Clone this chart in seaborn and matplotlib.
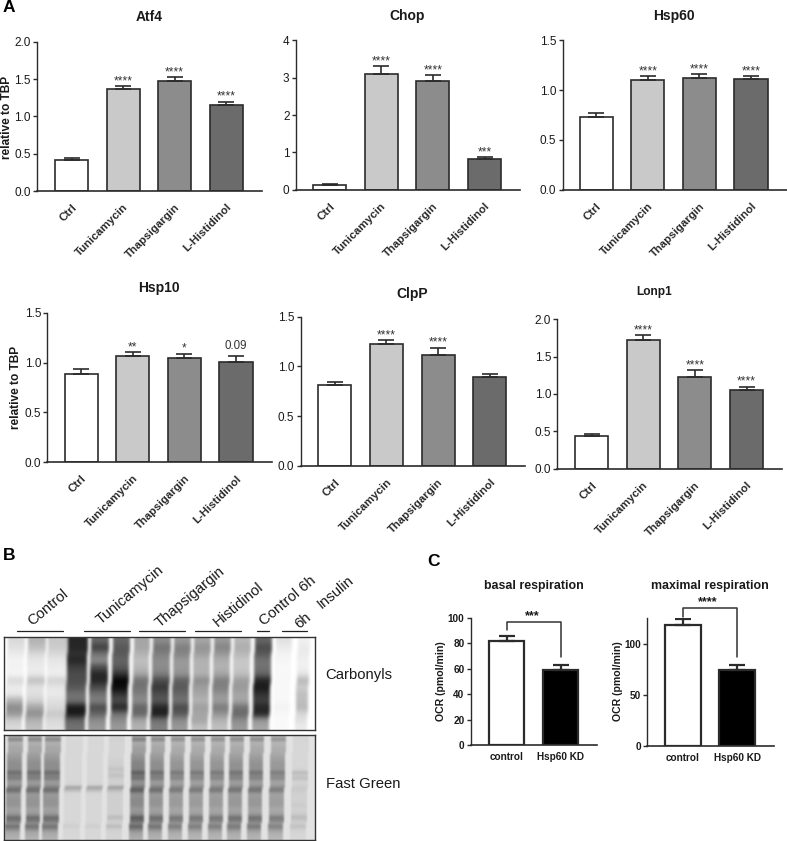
import numpy as np
import matplotlib
matplotlib.use('Agg')
import matplotlib.pyplot as plt
import seaborn as sns

# panel A data
treatments = ['Ctrl', 'Tunicamycin', 'Thapsigargin', 'L-Histidinol']
grays = ['#FFFFFF', '#C9C9C9', '#8C8C8C', '#6B6B6B']

atf4_vals = [0.42, 1.37, 1.48, 1.16]
atf4_err = [0.02, 0.04, 0.05, 0.04]
atf4_sig = ['', '****', '****', '****']
chop_vals = [0.12, 3.11, 2.90, 0.83]
chop_err = [0.02, 0.19, 0.17, 0.05]
chop_sig = ['', '****', '****', '***']
hsp60_vals = [0.73, 1.10, 1.12, 1.11]
hsp60_err = [0.04, 0.045, 0.045, 0.03]
hsp60_sig = ['', '****', '****', '****']
hsp10_vals = [0.89, 1.07, 1.05, 1.01]
hsp10_err = [0.05, 0.035, 0.04, 0.06]
hsp10_sig = ['', '**', '*', '0.09']
clpp_vals = [0.81, 1.23, 1.12, 0.89]
clpp_err = [0.03, 0.035, 0.07, 0.03]
clpp_sig = ['', '****', '****', '']
lonp1_vals = [0.44, 1.72, 1.23, 1.05]
lonp1_err = [0.03, 0.07, 0.09, 0.05]
lonp1_sig = ['', '****', '****', '****']

# panel C data
groups = ['control', 'Hsp60 KD']
basal_vals = [82, 59]
basal_err = [4, 4]
maximal_vals = [118, 74]
maximal_err = [6, 5.5]

# panel B, darkness of each lane (percent), top to bottom
carbonyl_lanes = [
    [15, 12, 8, 5, 5, 4, 15, 8, 8, 30, 45, 40, 20, 15],
    [30, 25, 15, 10, 8, 8, 25, 12, 12, 18, 35, 45, 30, 25],
    [22, 20, 15, 10, 8, 6, 18, 10, 8, 12, 15, 22, 15, 12],
    [85, 85, 80, 85, 75, 70, 70, 65, 55, 55, 90, 90, 60, 55],
    [60, 75, 55, 45, 70, 85, 85, 70, 55, 50, 70, 60, 45, 40],
    [60, 65, 65, 60, 65, 80, 98, 95, 80, 70, 85, 55, 45, 40],
    [35, 35, 30, 25, 28, 35, 55, 55, 50, 45, 60, 60, 35, 30],
    [45, 55, 50, 45, 45, 50, 70, 78, 70, 65, 85, 90, 55, 50],
    [40, 50, 48, 40, 40, 42, 62, 65, 60, 55, 70, 65, 45, 40],
    [35, 42, 38, 30, 30, 30, 45, 38, 35, 30, 38, 35, 35, 25],
    [40, 48, 40, 32, 30, 35, 50, 50, 42, 38, 52, 42, 30, 25],
    [28, 32, 28, 22, 22, 25, 38, 40, 35, 35, 55, 60, 45, 40],
    [60, 70, 65, 55, 55, 60, 85, 90, 80, 75, 85, 85, 40, 35],
    [12, 8, 5, 4, 3, 3, 3, 3, 3, 3, 5, 3, 2, 2],
    [6, 8, 8, 6, 6, 10, 28, 20, 25, 25, 28, 15, 12, 8],
]
green_profile = [.35, .70, .30, .35, .40, .40, .45, .50, .55, .60, .60, .60, .90, .70, .75, .50, .50, .75,
                 .90, .55, .50, .55, .55, .55, .45, .45, .55, .90, .80, .60, .85, .60, .40, .35, .30]
green_strength = [1, 1, 1, 0, 0, 0, 1.15, 1, .9, .9, .9, .95, .95, .85, 0]
# the weak lanes only show a few bands
green_weak_a = [0, 0, 0, 0, 0, 0, 0, 0, 0, 0, 0, 0, 0, 0, 0, 0, 0, .45, .2, 0, 0, 0, 0, 0, 0, 0, 0, 0, 0, 0, .08, 0, 0, 0, 0]
green_weak_b = [.02, .05, .02, .02, .02, .02, .02, .02, .05, .05, .08, .18, .08, .2, .08, .05, .05, .5,
                .2, .06, .06, .06, .06, .06, .06, .06, .06, .25, .08, .06, .25, .06, .03, .02, .02]
green_weak_c = [0, .02, 0, 0, 0, 0, 0, 0, 0, 0, 0, 0, .25, .1, .2, .03, .03, .1, .1, .05, .05, .05, .05,
                .1, .05, .05, .1, .25, .12, .06, .2, .05, .02, 0, 0]

W, H = 787, 841
sns.set_theme(style='ticks')
plt.rcParams['font.family'] = ['Liberation Sans', 'DejaVu Sans']
fig = plt.figure(figsize=(W / 100, H / 100), dpi=100)
ink = '#2b2b2b'


def px_axes(left, right, top, bottom):
    return fig.add_axes([left / W, 1 - bottom / H, (right - left) / W, (bottom - top) / H])


def put(x, y, s, **kw):
    kw.setdefault('ha', 'center')
    kw.setdefault('va', 'center')
    kw.setdefault('color', '#1a1a1a')
    fig.text(x / W, 1 - y / H, s, **kw)


def bars(ax, names, vals, errs, colors, first, step, left, right, ymax, yticks, tick_fmt,
         lw=1.2, width=0.64):
    sns.barplot(x=names, y=vals, hue=names, palette=colors, saturation=1, edgecolor=ink,
                linewidth=lw, width=width, legend=False, errorbar=None, ax=ax)
    pos = list(range(len(vals)))
    ax.errorbar(pos, vals, yerr=[[0] * len(vals), errs], fmt='none', ecolor=ink, elinewidth=lw,
                capsize=6, capthick=lw, zorder=1)
    ax.set_xlim((left - first) / step, (right - first) / step)
    ax.set_ylim(0, ymax)
    ax.set_yticks(yticks)
    ax.set_yticklabels([tick_fmt % t for t in yticks])
    ax.set_xlabel('')
    ax.set_ylabel('')
    sns.despine(ax=ax)
    ax.spines['left'].set_linewidth(1.0)
    ax.spines['bottom'].set_linewidth(1.2)
    ax.spines['left'].set_color(ink)
    ax.spines['bottom'].set_color(ink)
    ax.tick_params(axis='x', length=0)
    ax.tick_params(axis='y', length=3, width=1.0, color=ink, pad=1.5)


def panel(rect, first, step, vals, errs, sig, ymax, yticks):
    ax = px_axes(*rect)
    bars(ax, treatments, vals, errs, grays, first, step, rect[0], rect[1], ymax, yticks, '%.1f')
    for t in ax.get_yticklabels():
        t.set_fontsize(8.5)
        t.set_color('#1a1a1a')
    ax.tick_params(axis='x', pad=8)
    for t in ax.get_xticklabels():
        t.set(rotation=45, ha='right', rotation_mode='anchor', fontsize=8.2, fontweight='bold', color='#2a2a2a')
    for i, s in enumerate(sig):
        if s == '0.09':
            ax.annotate(s, (i, vals[i] + errs[i]), xytext=(0, 2.5), textcoords='offset points', ha='center',
                        va='bottom', fontsize=8.3, color='#333333')
        elif s:
            ax.annotate(s, (i, vals[i] + errs[i]), xytext=(0, 1.2), textcoords='offset points', ha='center',
                        va='baseline', fontsize=8.6, color='#333333')
    return ax


a = panel((37, 262, 42, 191), 71.5, 51.6, atf4_vals, atf4_err, atf4_sig, 2.0, [0, .5, 1, 1.5, 2])
b = panel((295.7, 520, 40.3, 189.7), 329.5, 51.7, chop_vals, chop_err, chop_sig, 4, [0, 1, 2, 3, 4])
b.set_yticklabels(['0', '1', '2', '3', '4'])
c = panel((562.7, 786.7, 40.3, 189.7), 596.2, 51.6, hsp60_vals, hsp60_err, hsp60_sig, 1.5, [0, .5, 1, 1.5])
d = panel((47.3, 271.7, 312.7, 462.3), 81.2, 51.6, hsp10_vals, hsp10_err, hsp10_sig, 1.5, [0, .5, 1, 1.5])
e = panel((300.7, 525, 316.7, 466), 334.7, 51.7, clpp_vals, clpp_err, clpp_sig, 1.5, [0, .5, 1, 1.5])
f = panel((557.3, 781.7, 319.3, 468.7), 591.5, 51.7, lonp1_vals, lonp1_err, lonp1_sig, 2.0, [0, .5, 1, 1.5, 2])

put(149, 17, 'Atf4', fontsize=10, fontweight='bold')
put(407, 16, 'Chop', fontsize=10, fontweight='bold')
put(674, 16, 'Hsp60', fontsize=10, fontweight='bold')
put(159, 288, 'Hsp10', fontsize=10, fontweight='bold')
put(412, 294, 'ClpP', fontsize=10, fontweight='bold')
put(654, 292, 'Lonp1', fontsize=8.6, fontweight='bold')
put(7.5, 117, 'relative to TBP', fontsize=8.6, fontweight='bold', rotation=90)
put(16, 387, 'relative to TBP', fontsize=8.6, fontweight='bold', rotation=90)

put(9, 7, 'A', fontsize=12.5, fontweight='bold', color='black')
put(9, 555, 'B', fontsize=12.5, fontweight='bold', color='black')
put(434, 561, 'C', fontsize=12.5, fontweight='bold', color='black')

# panel C
g = px_axes(470.7, 597.3, 617.7, 745.3)
bars(g, groups, basal_vals, basal_err, ['white', 'black'], 506.5, 54.2, 470.7, 597.3, 100,
     [0, 20, 40, 60, 80, 100], '%d', lw=1.6, width=0.65)
g.plot([0, 0, 1, 1], [90, 97, 97, 69], color='#333333', lw=1.1, clip_on=False)
h = px_axes(647, 774, 617.7, 746)
bars(h, groups, maximal_vals, maximal_err, ['white', 'black'], 683, 54, 647, 774, 125.3,
     [0, 50, 100], '%d', lw=1.6, width=0.65)
h.plot([0, 0, 1, 1], [126, 135, 135, 87], color='#333333', lw=1.1, clip_on=False)
for ax in (g, h):
    ax.tick_params(axis='x', pad=5)
    for t in ax.get_xticklabels() + ax.get_yticklabels():
        t.set(fontsize=7.2, fontweight='bold', color='#1a1a1a')
put(533.7, 585.7, 'basal respiration', fontsize=8.9, fontweight='bold')
put(709.7, 585.7, 'maximal respiration', fontsize=8.9, fontweight='bold')
put(441, 681, 'OCR (pmol/min)', fontsize=7.6, fontweight='bold', rotation=90)
put(617.7, 681, 'OCR (pmol/min)', fontsize=7.6, fontweight='bold', rotation=90)
put(532, 616, '***', fontsize=9, fontweight='bold')
put(707.7, 601.7, '****', fontsize=9, fontweight='bold')


# panel B gels
def smooth(img, nx, ny):
    k = np.array([1, 4, 6, 4, 1]) / 16
    for _ in range(nx):
        img = np.apply_along_axis(lambda r: np.convolve(np.pad(r, 2, mode='edge'), k, mode='valid'), 1, img)
    for _ in range(ny):
        img = np.apply_along_axis(lambda r: np.convolve(np.pad(r, 2, mode='edge'), k, mode='valid'), 0, img)
    return img


def slant(img, shift):
    # the lanes run a little to the left going down
    out = img.copy()
    for r in range(img.shape[0]):
        out[r] = np.roll(img[r], -int(round(shift * r / img.shape[0])))
    return out


def gel_axes(top, bottom, img):
    ax = px_axes(4.3, 315, top, bottom)
    ax.imshow(img, cmap='gray_r', vmin=0, vmax=1, aspect='auto', interpolation='bilinear')
    ax.set_xticks([])
    ax.set_yticks([])
    for s in ax.spines.values():
        s.set_linewidth(1.0)
        s.set_color('#333333')
    return ax


carb_edges = [(28, 75), (90, 137), (150, 203), (210, 264), (278, 325), (343, 390), (406, 450), (465, 512),
              (528, 572), (588, 632), (648, 692), (708, 752), (770, 815), (832, 875), (900, 930)]
carb = np.zeros((93, 311))
rows = np.arange(93) * 14 // 93
for (x0, x1), lane in zip(carb_edges, carbonyl_lanes):
    carb[:, int(x0 / 3 - 5.3):int(x1 / 3 - 3.3)] = (np.array(lane) / 100)[rows][:, None]
gel_axes(637.3, 730, smooth(slant(carb, 3), 2, 8))

green_edges = [(25, 72), (87, 128), (137, 185), (200, 250), (265, 315), (330, 378), (398, 440), (455, 498),
               (515, 558), (575, 618), (635, 678), (692, 735), (752, 795), (815, 860), (880, 930)]
weak = {3: green_weak_a, 4: green_weak_a, 5: green_weak_b, 14: green_weak_c}
green = np.full((105, 311), 0.11)
rows = np.arange(105) * 35 // 105
for i, (x0, x1) in enumerate(green_edges):
    prof = np.array(weak.get(i, green_profile)) * (green_strength[i] or 1)
    green[:, int(x0 / 3 - 4.3):int(x1 / 3 - 4.3)] = 0.16 + 0.47 * prof[rows][:, None]
gel_axes(735, 840, smooth(slant(green, 3), 1, 2))

line_ax = fig.add_axes([0, 0, 1, 1], facecolor='none')
line_ax.set_xlim(0, W)
line_ax.set_ylim(H, 0)
line_ax.axis('off')
for x0, x1 in [(50, 188), (252, 390), (416, 554), (585, 724), (770, 806), (845, 920)]:
    line_ax.plot([x0 / 3, x1 / 3], [630.7, 630.7], color='#222222', lw=0.9)

put(48, 607, 'Control', fontsize=10.7, rotation=40)
put(130, 595, 'Tunicamycin', fontsize=10.7, rotation=40)
put(190, 597, 'Thapsigargin', fontsize=10.7, rotation=40)
put(238, 604, 'Histidinol', fontsize=10.7, rotation=40)
put(288, 601, 'Control 6h', fontsize=10.7, rotation=40)
put(303, 621, '6h', fontsize=10.7, rotation=40)
put(336, 592, 'Insulin', fontsize=10.7, rotation=40)
put(359, 675, 'Carbonyls', fontsize=10.7)
put(363, 784, 'Fast Green', fontsize=10.7)

fig.savefig('out.png', dpi=100)
